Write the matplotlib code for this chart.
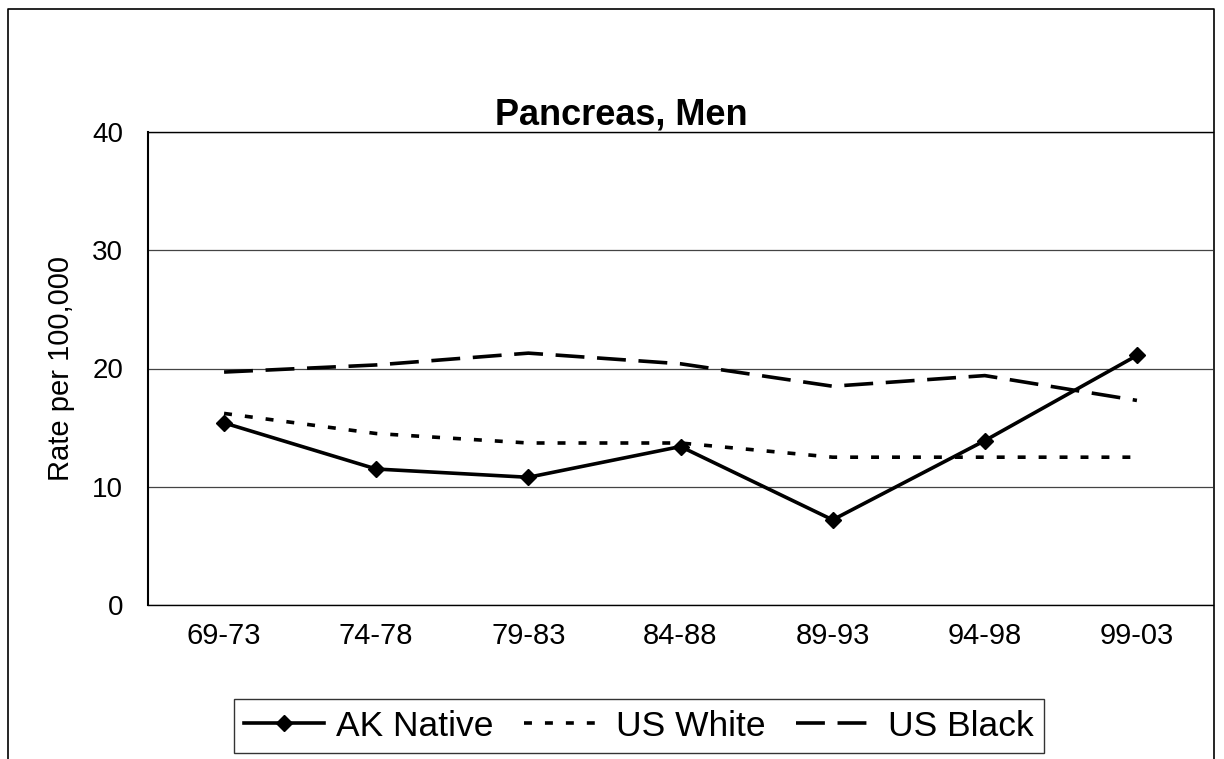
import numpy as np
import matplotlib.pyplot as plt
from matplotlib.lines import Line2D

plt.rcParams['font.family'] = ['Liberation Sans', 'DejaVu Sans']

periods = ["69-73", "74-78", "79-83", "84-88", "89-93", "94-98", "99-03"]
ak_native = [15.4, 11.5, 10.8, 13.4, 7.2, 13.9, 21.1]
us_white = [16.2, 14.5, 13.7, 13.7, 12.5, 12.5, 12.5]
us_black = [19.7, 20.3, 21.3, 20.4, 18.5, 19.4, 17.3]

W, H = 1224, 759
fig = plt.figure(figsize=(W / 100, H / 100), dpi=100)
ax = fig.add_axes([148 / W, 1 - 605 / H, (1213 - 148) / W, (605 - 132) / H])

x = np.arange(len(periods))
lw = 2.6
ax.plot(x, ak_native, color='black', lw=lw, marker='D', markersize=8,
        label='AK Native')
ax.plot(x, us_white, color='black', lw=lw, dashes=(2.2, 3.6),
        label='US White')
ax.plot(x, us_black, color='black', lw=lw, dashes=(8, 3.5),
        label='US Black')

ax.set_xlim(-0.5, len(periods) - 0.5)
ax.set_ylim(0, 40)
ax.set_yticks([0, 10, 20, 30, 40])
ax.set_xticks(x)
ax.set_xticklabels(periods)
ax.tick_params(axis='x', length=0, labelsize=21, pad=12)
ax.tick_params(axis='y', length=0, labelsize=20, pad=18)
ax.yaxis.grid(True, color='#444444', lw=0.9)
ax.set_axisbelow(True)
for s in ax.spines.values():
    s.set_color('black')
    s.set_linewidth(1.0)
ax.spines['left'].set_linewidth(1.5)
ax.spines['right'].set_visible(False)

ax.set_ylabel("Rate per 100,000", fontsize=21, labelpad=12)
fig.text(621 / W, 1 - 124 / H, "Pancreas, Men", fontsize=26,
         fontweight='bold', ha='center', va='baseline')

leg = fig.legend(loc='center', bbox_to_anchor=(639 / W, 1 - 726 / H), ncol=3,
                 fontsize=25.5, frameon=True, fancybox=False, edgecolor='black',
                 handlelength=2.25, columnspacing=0.85, handletextpad=0.35,
                 borderpad=0.3, borderaxespad=0)
leg.get_frame().set_linewidth(1.0)

# outer chart frame (bottom is cut off)
fx = [8 / W, 8 / W, 1214 / W, 1214 / W]
fy = [0, 1 - 9 / H, 1 - 9 / H, 0]
fig.add_artist(Line2D(fx, fy, color='black', lw=1.2, transform=fig.transFigure))

plt.savefig("out.png", dpi=100)
